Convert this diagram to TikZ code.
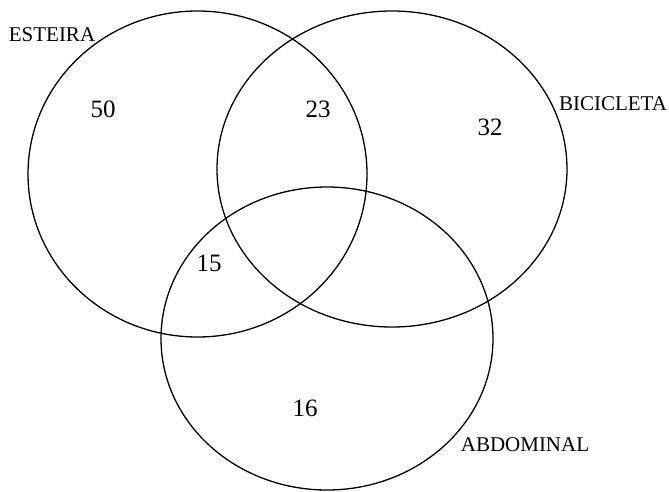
\documentclass[tikz,border=0pt]{standalone}
\usepackage{fontspec}
\setmainfont{Liberation Serif}
\begin{document}
\begin{tikzpicture}[x=1pt,y=-1pt,
  setline/.style={draw=black,line width=1.3pt},
  setlabel/.style={inner sep=0pt,font=\fontsize{21pt}{21pt}\selectfont},
  setnum/.style={inner sep=0pt,font=\fontsize{25pt}{25pt}\selectfont}]
\useasboundingbox (0,0) rectangle (669,491);
\draw[setline] (197.5,174) ellipse [x radius=169.5pt, y radius=163pt];
\draw[setline] (392,169) ellipse [x radius=175pt, y radius=158pt];
\draw[setline] (327,338.5) ellipse [x radius=166pt, y radius=151.5pt];
\node[setlabel] (esteira) at (52,35) {ESTEIRA};
\node[setlabel] (bicicleta) at (613,104) {BICICLETA};
\node[setlabel] (abdominal) at (525,445) {ABDOMINAL};
\node[setnum] (n50) at (103,109) {50};
\node[setnum] (n23) at (318,109) {23};
\node[setnum] (n32) at (490,127) {32};
\node[setnum] (n15) at (209,263) {15};
\node[setnum] (n16) at (305,408) {16};
\end{tikzpicture}
\end{document}
